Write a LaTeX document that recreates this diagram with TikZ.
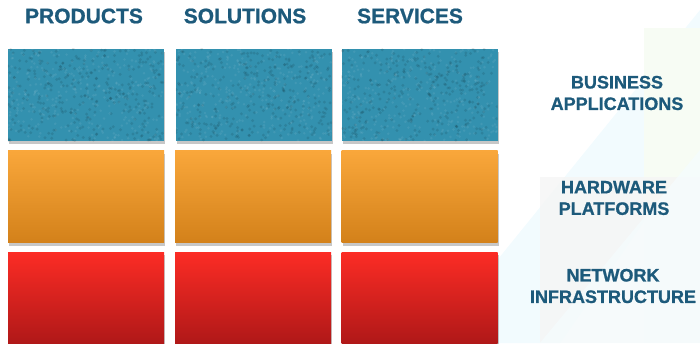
\documentclass[tikz,border=0pt]{standalone}
\usepackage{fontspec}
\setmainfont{Liberation Sans}[BoldFeatures={FakeBold=0.9}]
\usetikzlibrary{shadows,calc}

\definecolor{headblue}{HTML}{1D5A7B}
\definecolor{bizblue}{HTML}{3391AF}
\definecolor{orangetop}{HTML}{F9A73B}
\definecolor{orangebot}{HTML}{D3811A}
\definecolor{redtop}{HTML}{FC2C25}
\definecolor{redbot}{HTML}{AF1818}

\begin{document}
\begin{tikzpicture}
        [x=1pt, y=-1pt,
        head/.style={font=\bfseries\fontsize{21}{25}\selectfont, text=headblue},
        layer/.style={font=\bfseries\fontsize{18}{21.5}\selectfont, text=headblue, align=center},
        cell/.style={minimum width=156pt, minimum height=92pt, inner sep=0pt,
                     drop shadow={shadow xshift=1pt, shadow yshift=-3pt, opacity=.22, fill=black}},
        biz/.style={cell, fill=bizblue},
        hw/.style={cell, top color=orangetop, bottom color=orangebot},
        net/.style={cell, top color=redtop, bottom color=redbot}]

        \useasboundingbox (0,0) rectangle (700,343);

        % faint background shapes
        \fill[cyan!5] (430,343) -- (700,10) -- (700,140) -- (560,343) -- cycle;
        \fill[yellow!20!green!4] (644,28) rectangle (700,343);
        \fill[gray!8, opacity=.8] (540,177) rectangle (700,343);
        \fill[cyan!4, opacity=.7] (540,343) -- (700,150) -- (700,343) -- cycle;

        % column headers
        \node[head] (products) at (84,16) {PRODUCTS};
        \node[head] (solutions) at (245,16) {SOLUTIONS};
        \node[head] (services) at (410,16) {SERVICES};

        % business applications row
        \node[biz] (prodbiz) at (86,95) {};
        \node[biz] (solbiz) at (254,95) {};
        \node[biz] (servbiz) at (419.5,95) {};

        % hardware platforms row
        \node[hw] (prodhw) at (86,196.5) {};
        \node[hw] (solhw) at (253,196.5) {};
        \node[hw] (servhw) at (419.5,196.5) {};

        % network infrastructure row
        \node[net] (prodnet) at (86,298) {};
        \node[net] (solnet) at (253,298) {};
        \node[net] (servnet) at (419.5,298) {};

        % speckle on the blue cells
        \pgfmathsetseed{11}
        \foreach \c in {prodbiz,solbiz,servbiz} {
          \begin{scope}
            \clip (\c.south west) rectangle (\c.north east);
            \foreach \i in {1,...,320} {
              \fill[black, opacity=.1] ($(\c.north west)+(rnd*156,rnd*92)$) circle (1.6pt);
              \fill[white, opacity=.07] ($(\c.north west)+(rnd*156,rnd*92)$) circle (1.4pt);
            }
          \end{scope}
        }

        % layer labels
        \node[layer] (business) at (617,93) {BUSINESS\\APPLICATIONS};
        \node[layer] (hardware) at (614,198) {HARDWARE\\PLATFORMS};
        \node[layer] (network) at (613,286) {NETWORK\\INFRASTRUCTURE};

\end{tikzpicture}
\end{document}
